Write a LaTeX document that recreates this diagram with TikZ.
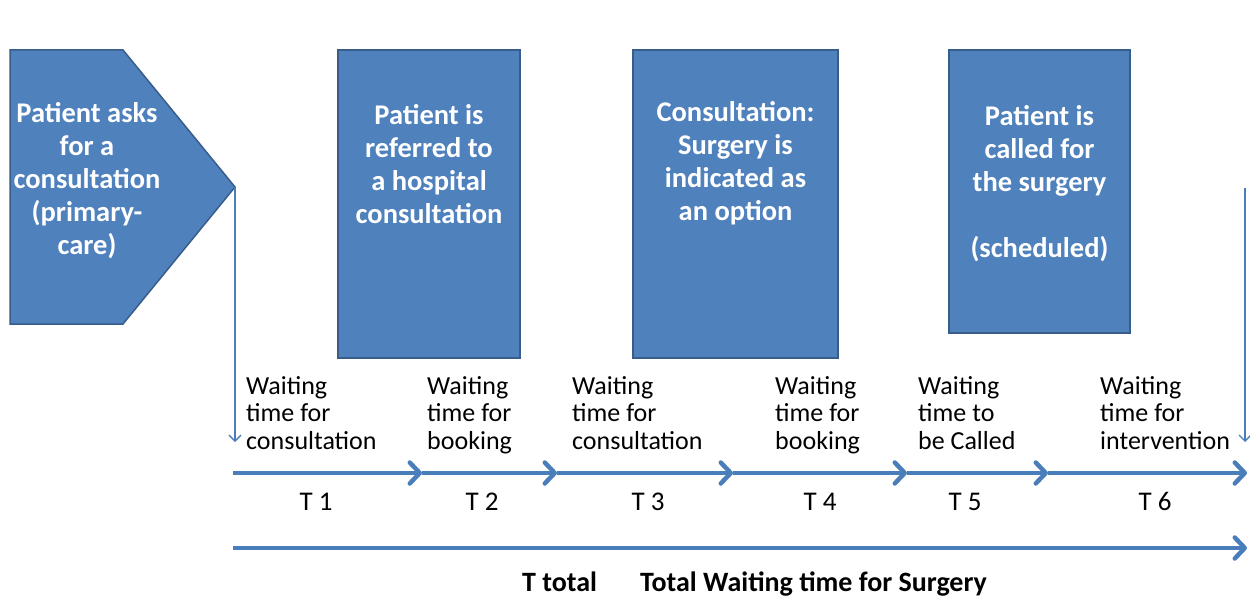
\documentclass[tikz,border=0pt]{standalone}
\usepackage{fontspec}
\setmainfont{Carlito}
\usetikzlibrary{arrows.meta}
\definecolor{boxfill}{HTML}{4F81BD}
\definecolor{boxline}{HTML}{385D8A}
\definecolor{arr}{HTML}{4A7EBB}
\begin{document}
\begin{tikzpicture}[x=1pt,y=-1pt,
  stagebox/.style={draw=boxline, line width=1.5pt, fill=boxfill, inner sep=0pt},
  boxtext/.style={text=white, align=center, inner sep=0pt, font=\fontsize{28.5}{33}\selectfont\bfseries},
  waitlabel/.style={anchor=north west, align=left, inner sep=0pt, font=\fontsize{26}{27.5}\selectfont},
  tlabel/.style={anchor=base, inner sep=0pt, font=\fontsize{27}{30}\selectfont},
  totlabel/.style={anchor=base west, inner sep=0pt, font=\fontsize{28}{32}\selectfont\bfseries},
  timeline/.style={draw=arr, line width=4.5pt, -{Straight Barb[length=10pt,width=21pt,line cap=round,line join=round]}},
  thinarrow/.style={draw=arr, line width=1.3pt, -{Straight Barb[length=6pt,width=12pt]}},
]
\useasboundingbox[fill=white] (0,0) rectangle (1250,599);

% first stage (pentagon)
\draw[stagebox] (10,50) -- (123,50) -- (235,187) -- (123,324) -- (10,324) -- cycle;
\coordinate (tip) at (235,187);
\node[boxtext] (s1) at (87,181) {Patient asks\\for a\\consultation\\(primary-\\care)};

% stage boxes
\node[stagebox, minimum width=182pt, minimum height=308pt] (b2) at (429,204) {};
\node[boxtext] (s2) at (429,164) {Patient is\\referred to\\a hospital\\consultation};
\node[stagebox, minimum width=205pt, minimum height=308pt] (b3) at (735.5,204) {};
\node[boxtext] (s3) at (735.5,163) {Consultation:\\Surgery is\\indicated as\\an option};
\node[stagebox, minimum width=181pt, minimum height=283pt] (b4) at (1039.5,191.5) {};
\node[boxtext] (s4) at (1039.5,184) {Patient is\\called for\\the surgery\\[33pt](scheduled)};

% thin vertical arrows
\coordinate (lbot) at (235,442);
\coordinate (rtop) at (1245,188);
\coordinate (rbot) at (1245,442);
\draw[thinarrow] (tip) -- (lbot);
\draw[thinarrow] (rtop) -- (rbot);

% timeline
\coordinate (t0) at (233,473);
\coordinate (t1) at (422,473);
\coordinate (t2) at (557,473);
\coordinate (t3) at (733,473);
\coordinate (t4) at (907,473);
\coordinate (t5) at (1048,473);
\coordinate (t6) at (1247,473);
\draw[timeline] (t0) -- (t1);
\draw[timeline] (t1) -- (t2);
\draw[timeline] (t2) -- (t3);
\draw[timeline] (t3) -- (t4);
\draw[timeline] (t4) -- (t5);
\draw[timeline] (t5) -- (t6);

% waiting labels
\node[waitlabel] (w1) at (246,376) {Waiting\\time for\\consultation};
\node[waitlabel] (w2) at (427,376) {Waiting\\time for\\booking};
\node[waitlabel] (w3) at (572,376) {Waiting\\time for\\consultation};
\node[waitlabel] (w4) at (775,376) {Waiting\\time for\\booking};
\node[waitlabel] (w5) at (918,376) {Waiting\\time to\\be Called};
\node[waitlabel] (w6) at (1100,376) {Waiting\\time for\\intervention};

% T labels
\node[tlabel] (T1) at (316,510) {T 1};
\node[tlabel] (T2) at (482,510) {T 2};
\node[tlabel] (T3) at (648,510) {T 3};
\node[tlabel] (T4) at (820,510) {T 4};
\node[tlabel] (T5) at (965,510) {T 5};
\node[tlabel] (T6) at (1155,510) {T 6};

% total
\coordinate (g0) at (233,548);
\coordinate (g1) at (1247,548);
\draw[timeline] (g0) -- (g1);
\node[totlabel] (tt) at (522,591) {T total};
\node[totlabel] (tw) at (640,591) {Total Waiting time for Surgery};
\end{tikzpicture}
\end{document}
